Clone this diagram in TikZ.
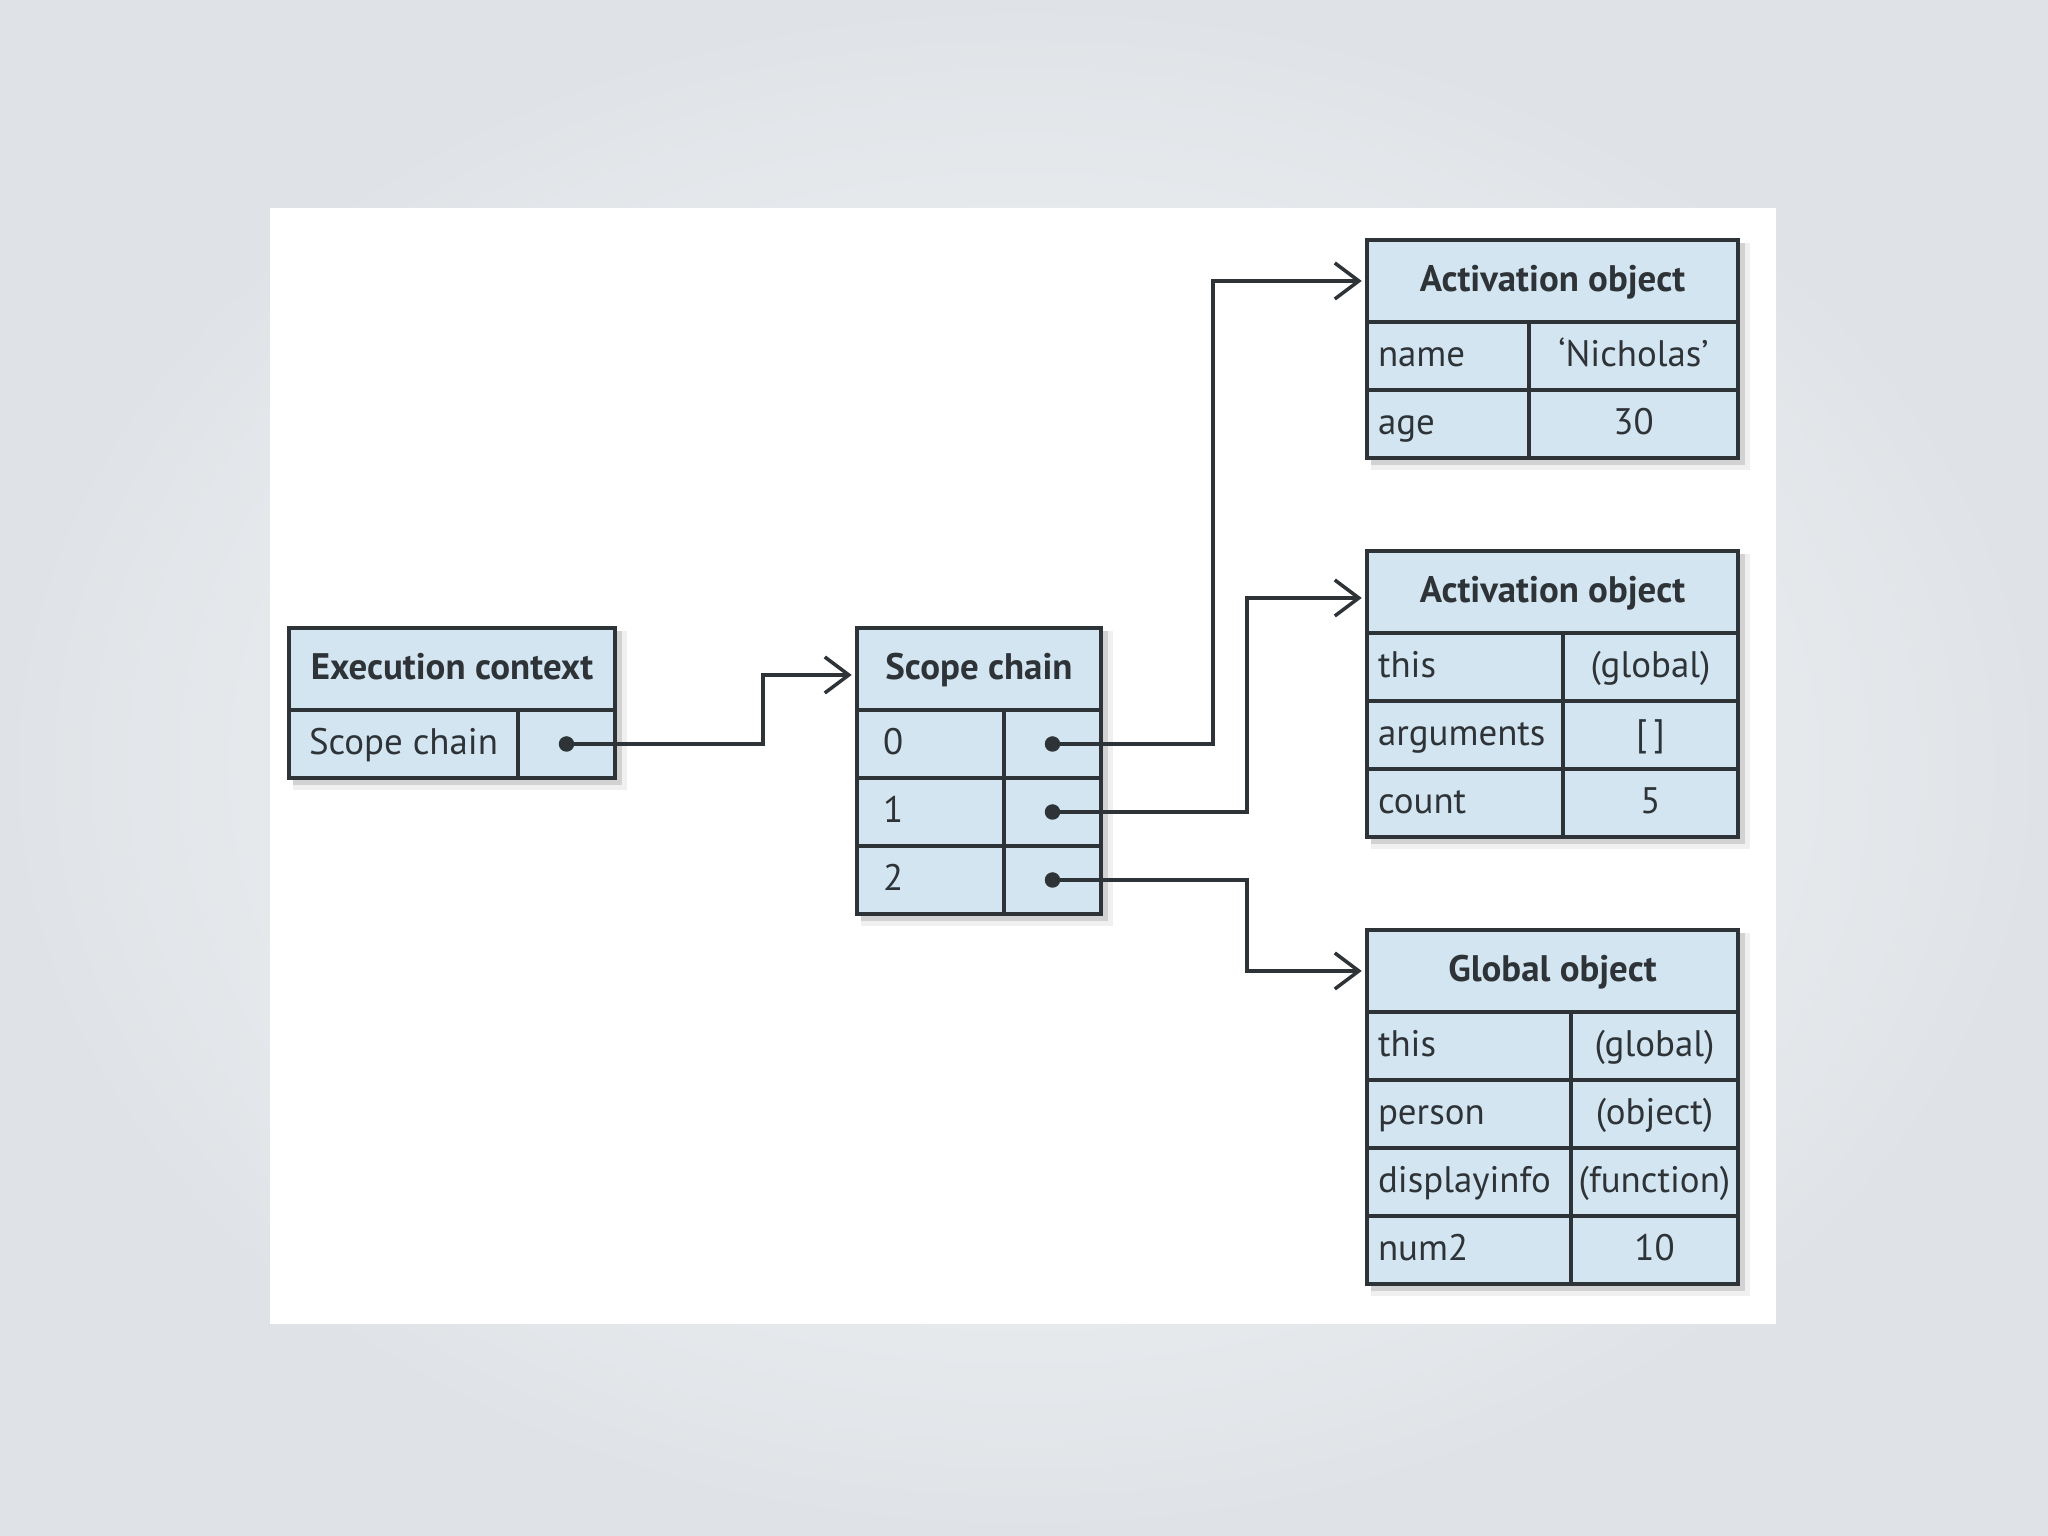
\documentclass[tikz,border=0pt]{standalone}
\usepackage{fontspec}
\setmainfont{PT Sans}
\usetikzlibrary{arrows.meta,positioning,backgrounds}
\definecolor{boxc}{HTML}{D3E5F0}
\definecolor{linec}{HTML}{2E3338}
\definecolor{bgc}{HTML}{DFE3E7}

\begin{document}
\begin{tikzpicture}[
  cell/.style={draw=linec,fill=boxc,line width=1pt,inner sep=0pt,outer sep=0pt,
    minimum height=6.8mm,text height=1.6ex,text depth=.45ex,text=linec,font=\fontsize{10.5pt}{12pt}\selectfont},
  hdr/.style={cell,minimum width=#1,minimum height=8.2mm,font=\fontsize{10.5pt}{12pt}\selectfont\bfseries},
  key/.style={cell,text width=#1,align=left,inner xsep=1.1mm},
  idx/.style={cell,text width=#1,align=left,inner xsep=2.6mm},
  val/.style={cell,minimum width=#1},
  ar/.style={-{Straight Barb[length=2.4mm,width=3.6mm]},line width=1pt,draw=linec,shorten >=1.5pt},
  dot/.style={fill=linec}]
\useasboundingbox (0,0) rectangle (20.48,15.36);

% execution context
\node[hdr=3.26cm,anchor=north west] (ech) at (2.89,9.08) {Execution context};
\node[val=2.29cm,below right=0pt and 0pt of ech.south west] (eck) {Scope chain};
\node[val=0.97cm,right=0pt of eck] (ecv) {};

% scope chain
\node[hdr=2.44cm,anchor=north west] (sch) at (8.57,9.08) {Scope chain};
\node[idx=0.95cm,below right=0pt and 0pt of sch.south west] (sck0) {0};
\node[val=0.97cm,right=0pt of sck0] (scv0) {};
\node[idx=0.95cm,below=0pt of sck0] (sck1) {1};
\node[val=0.97cm,right=0pt of sck1] (scv1) {};
\node[idx=0.95cm,below=0pt of sck1] (sck2) {2};
\node[val=0.97cm,right=0pt of sck2] (scv2) {};

% first activation object
\node[hdr=3.71cm,anchor=north west] (aoah) at (13.67,12.96) {Activation object};
\node[key=1.40cm,below right=0pt and 0pt of aoah.south west] (aoak1) {name};
\node[val=2.09cm,right=0pt of aoak1] (aoav1) {‘Nicholas’};
\node[key=1.40cm,below=0pt of aoak1] (aoak2) {age};
\node[val=2.09cm,right=0pt of aoak2] (aoav2) {30};

% second activation object
\node[hdr=3.71cm,anchor=north west] (aobh) at (13.67,9.85) {Activation object};
\node[key=1.74cm,below right=0pt and 0pt of aobh.south west] (aobk1) {this};
\node[val=1.75cm,right=0pt of aobk1] (aobv1) {(global)};
\node[key=1.74cm,below=0pt of aobk1] (aobk2) {arguments};
\node[val=1.75cm,right=0pt of aobk2] (aobv2) {[\,]};
\node[key=1.74cm,below=0pt of aobk2] (aobk3) {count};
\node[val=1.75cm,right=0pt of aobk3] (aobv3) {5};

% global object
\node[hdr=3.71cm,anchor=north west] (goh) at (13.67,6.06) {Global object};
\node[key=1.82cm,below right=0pt and 0pt of goh.south west] (gok1) {this};
\node[val=1.67cm,right=0pt of gok1] (gov1) {(global)};
\node[key=1.82cm,below=0pt of gok1] (gok2) {person};
\node[val=1.67cm,right=0pt of gok2] (gov2) {(object)};
\node[key=1.82cm,below=0pt of gok2] (gok3) {displayinfo};
\node[val=1.67cm,right=0pt of gok3] (gov3) {(function)};
\node[key=1.82cm,below=0pt of gok3] (gok4) {num2};
\node[val=1.67cm,right=0pt of gok4] (gov4) {10};

% page, panel and soft shadows
\begin{scope}[on background layer]
\shade[inner color=gray!3,outer color=bgc] (0,0) rectangle (20.48,15.36);
\fill[white] (2.70,2.12) rectangle (17.76,13.28);
\foreach \a/\b in {ech/ecv,sch/scv2,aoah/aoav2,aobh/aobv3,goh/gov4}{
  \fill[black,opacity=.06] ([shift={(1pt,-1pt)}]\a.north west) rectangle ([shift={(3.5pt,-3.5pt)}]\b.south east);
  \fill[black,opacity=.12] ([shift={(1pt,-1pt)}]\a.north west) rectangle ([shift={(2pt,-2pt)}]\b.south east);
}
\end{scope}

% pointers
\fill[dot] (ecv.center) circle (2.2pt);
\fill[dot] (scv0.center) circle (2.2pt);
\fill[dot] (scv1.center) circle (2.2pt);
\fill[dot] (scv2.center) circle (2.2pt);
\draw[ar] (ecv.center) -| ([xshift=-9.4mm,yshift=-0.6mm]sch.west) -- ([yshift=-0.6mm]sch.west);
\draw[ar] (scv0.center) -| ([xshift=-15.4mm]aoah.west) -- (aoah.west);
\draw[ar] (scv1.center) -| ([xshift=-12mm,yshift=-0.6mm]aobh.west) -- ([yshift=-0.6mm]aobh.west);
\draw[ar] (scv2.center) -| ([xshift=-12mm]goh.west) -- (goh.west);
\end{tikzpicture}
\end{document}
